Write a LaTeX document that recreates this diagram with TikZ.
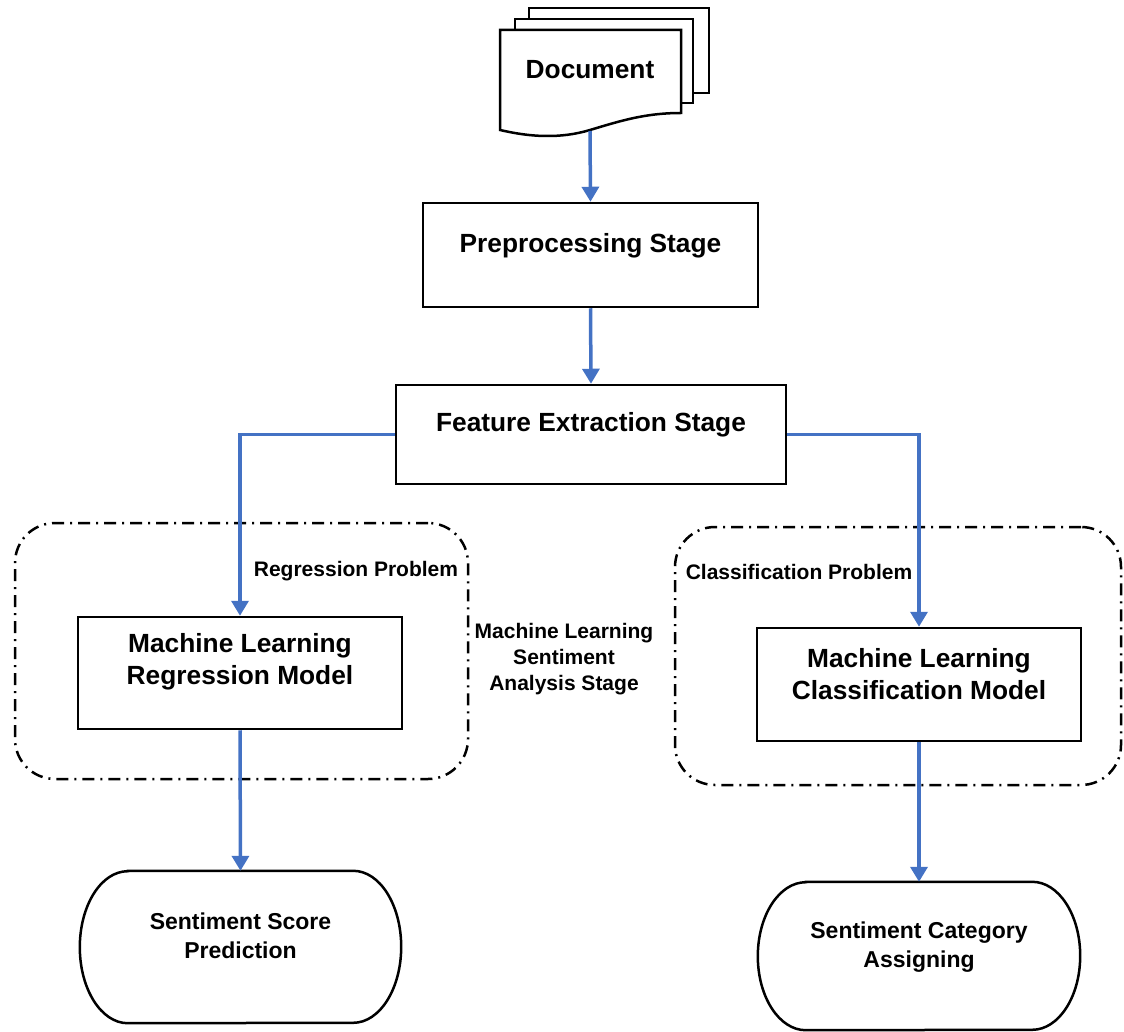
\documentclass[tikz,border=0pt]{standalone}
\usepackage{fontspec}
\setmainfont{Liberation Sans}
\usetikzlibrary{arrows.meta}
\definecolor{flowblue}{RGB}{68,114,196}
\begin{document}
\begin{tikzpicture}[x=1pt,y=-1pt,
  box/.style={draw=black,line width=2.5pt,fill=white,inner sep=0pt},
  page/.style={draw=black,line width=2.5pt,fill=white},
  txt/.style={font=\bfseries\fontsize{26.3}{32}\selectfont,align=center,inner sep=0pt},
  smalltxt/.style={font=\bfseries\fontsize{21}{26}\selectfont,align=center,inner sep=0pt},
  termtxt/.style={font=\bfseries\fontsize{23}{29}\selectfont,align=center,inner sep=0pt},
  flow/.style={draw=flowblue,line width=3.5pt,-{Triangle[width=17pt,length=15pt]}},
  group/.style={draw=black,line width=2.5pt,rounded corners=40pt,
    dash pattern=on 12pt off 6pt on 2pt off 6pt,inner sep=0pt},
  term/.style={draw=none,inner sep=0pt},
  termline/.style={draw=black,line width=2.5pt,fill=white},
]
\useasboundingbox (0,0) rectangle (1124,1032);

% dash-dot grouping frames
\node[group,minimum width=453pt,minimum height=256pt] (reggroup) at (241.5,651) {};
\node[group,minimum width=446pt,minimum height=258pt] (clsgroup) at (898,656) {};

% stacked document symbol
\draw[page] (529,8) rectangle (709,93);
\draw[page] (515,19) rectangle (693,103);
\draw[page] (500,30) -- (681,30) -- (681,113)
  .. controls (645,113) and (620,121) .. (590,130)
  .. controls (560,139) and (530,137) .. (500,130) -- cycle;
\node[txt] (doc) at (590,70) {Document};
\coordinate (docbot) at (590,131);

% process boxes
\node[box,minimum width=335pt,minimum height=104pt] (pre) at (590.5,255) {};
\node[txt] (pretxt) at (590.5,246) {Preprocessing Stage};
\node[box,minimum width=390pt,minimum height=99pt] (feat) at (591,434.5) {};
\node[txt] (feattxt) at (591,425) {Feature Extraction Stage};
\node[box,minimum width=324pt,minimum height=112pt] (mlreg) at (240,673) {};
\node[txt] (mlregtxt) at (240,662) {Machine Learning\\Regression Model};
\node[box,minimum width=324pt,minimum height=113pt] (mlcls) at (919,684.5) {};
\node[txt] (mlclstxt) at (919,674) {Machine Learning\\Classification Model};

% terminal shapes with elliptical ends
\node[term,minimum width=321pt,minimum height=152pt] (score) at (240.5,947) {};
\draw[termline]
  ([xshift=48pt]score.north west) -- ([xshift=-48pt]score.north east)
  arc[start angle=90,end angle=-90,x radius=48pt,y radius=76pt]
  -- ([xshift=48pt]score.south west)
  arc[start angle=270,end angle=90,x radius=48pt,y radius=76pt] -- cycle;
\node[termtxt] (scoretxt) at (240.5,936) {Sentiment Score\\Prediction};

\node[term,minimum width=322pt,minimum height=148pt] (cat) at (919,956) {};
\draw[termline]
  ([xshift=48pt]cat.north west) -- ([xshift=-48pt]cat.north east)
  arc[start angle=90,end angle=-90,x radius=48pt,y radius=74pt]
  -- ([xshift=48pt]cat.south west)
  arc[start angle=270,end angle=90,x radius=48pt,y radius=74pt] -- cycle;
\node[termtxt] (cattxt) at (919,947.5) {Sentiment Category\\Assigning};

% labels
\node[smalltxt] (reglbl) at (356,571) {Regression Problem};
\node[smalltxt] (clslbl) at (799,572) {Classification Problem};
\node[smalltxt] (stagelbl) at (564,659) {Machine Learning\\Sentiment\\Analysis Stage};

% connectors
\draw[flow] (docbot) -- (pre.north);
\draw[flow] (pre.south) -- (feat.north);
\draw[flow] (feat.west) -| (mlreg.north);
\draw[flow] (feat.east) -| (mlcls.north);
\draw[flow] (mlreg.south) -- (score.north);
\draw[flow] (mlcls.south) -- (cat.north);
\end{tikzpicture}
\end{document}
